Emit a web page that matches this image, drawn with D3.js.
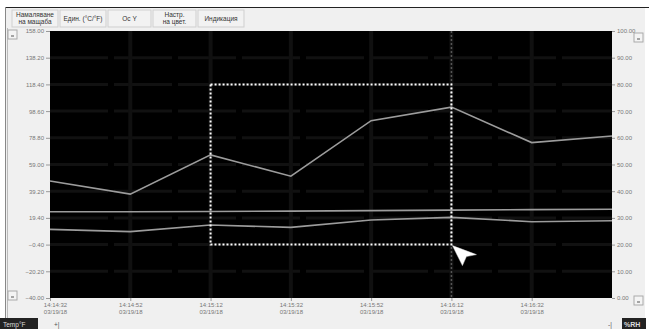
<!DOCTYPE html>
<html>
<head>
<meta charset="utf-8">
<script src="https://cdn.jsdelivr.net/npm/d3@7"></script>
<style>
  body { margin: 0; background: #fff; }
  svg { display: block; font-family: "Liberation Sans", Arial, sans-serif; }
  .axis text { fill: #777; font-size: 6px; }
  .axis path { display: none; }
  .axis line { stroke: #999; }
  .btn text { fill: #333; font-size: 6.5px; }
</style>
</head>
<body>
<svg id="chart" width="649" height="329"></svg>
<script>
// sample times (one reading every 20 s) and the date shown under each
const times = ["14:14:32","14:14:52","14:15:12","14:15:32","14:15:52","14:16:12","14:16:32","14:16:52"];
const dateLabel = "03/19/18";
// %RH channel (right axis)
const humidity = [43.8, 38.9, 53.6, 45.6, 66.4, 71.5, 58.2, 60.7];
// temperature channels (left axis)
const tempUpper = [24.0, 24.0, 24.2, 24.4, 24.8, 25.2, 25.5, 25.8];
const tempLower = [10.9, 9.2, 14.1, 12.4, 17.8, 19.8, 16.6, 17.3];
// axis ticks
const leftTicks = [158.00, 138.20, 118.40, 98.60, 78.80, 59.00, 39.20, 19.40, -0.40, -20.20, -40.00];
const rightTicks = [100, 90, 80, 70, 60, 50, 40, 30, 20, 10, 0];
const xTicks = ["14:14:32","14:14:52","14:15:12","14:15:32","14:15:52","14:16:12","14:16:32"];
// zoom selection box and cursor
const zoomBox = { from: "14:15:12", to: "14:16:12", low: -0.40, high: 118.40 };
const cursorTime = "14:16:12";
const buttons = [["Намаляване", "на мащаба"], ["Един. (°C/°F)"], ["Ос Y"], ["Настр.", "на цвет."], ["Индикация"]];

const parse = d3.timeParse("%H:%M:%S");
const svg = d3.select("#chart");
const margin = {top: 31, right: 37, bottom: 31, left: 50};
const W = 649, H = 329;
const width = W - margin.left - margin.right, height = H - margin.top - margin.bottom;

// window frame
svg.append("rect").attr("x", 5).attr("y", 7).attr("width", 640).attr("height", 322)
  .attr("fill", "#f0f0f0");
svg.append("line").attr("x1", 5).attr("x2", 649).attr("y1", 7.5).attr("y2", 7.5).attr("stroke", "#222");
svg.append("line").attr("x1", 5.5).attr("x2", 5.5).attr("y1", 7).attr("y2", 329).attr("stroke", "#888");
svg.append("line").attr("x1", 7.5).attr("x2", 7.5).attr("y1", 28).attr("y2", 318).attr("stroke", "#bbb");

// toolbar
const btnW = [46, 46, 43, 43, 46];
let bx = 12;
buttons.forEach((lines, i) => {
  const g = svg.append("g").attr("class", "btn").attr("transform", `translate(${bx},10)`);
  g.append("rect").attr("width", btnW[i]).attr("height", 17).attr("fill", "#f2f2f2").attr("stroke", "#cfcfcf");
  const t = g.append("text").attr("text-anchor", "middle");
  lines.forEach((l, j) => {
    t.append("tspan").attr("x", btnW[i] / 2)
      .attr("y", lines.length === 1 ? 11 : 7 + j * 6.5).text(l);
  });
  bx += btnW[i] + 2;
});

const g = svg.append("g").attr("transform", `translate(${margin.left},${margin.top})`);

const x = d3.scaleTime().domain([parse(times[0]), parse(times[times.length - 1])]).range([0, width]);
const yL = d3.scaleLinear().domain([-40, 158]).range([height, 0]);
const yR = d3.scaleLinear().domain([0, 100]).range([height, 0]);

g.append("rect").attr("width", width).attr("height", height).attr("fill", "#000");

// grid (very faint, as in the logger software)
g.append("g").selectAll("line").data(leftTicks.slice(1, -1)).join("line")
  .attr("x1", 0).attr("x2", width).attr("y1", d => yL(d)).attr("y2", d => yL(d))
  .attr("stroke", "#111").attr("stroke-width", 3).attr("stroke-dasharray", "58,6");
g.append("g").selectAll("line").data(xTicks.slice(1)).join("line")
  .attr("x1", d => x(parse(d))).attr("x2", d => x(parse(d)))
  .attr("y1", 0).attr("y2", height)
  .attr("stroke", "#101010").attr("stroke-width", 4);

// cursor line
g.append("line").attr("x1", x(parse(cursorTime))).attr("x2", x(parse(cursorTime)))
  .attr("y1", 0).attr("y2", height).attr("stroke", "#555").attr("stroke-width", 1.5)
  .attr("stroke-dasharray", "2,2");

// series
const line = (ys, scale) => d3.line().x((d, i) => x(parse(times[i]))).y(d => scale(d))(ys);
[[humidity, yR], [tempUpper, yL], [tempLower, yL]].forEach(([vals, sc]) => {
  g.append("path").attr("d", line(vals, sc)).attr("fill", "none")
    .attr("stroke", "#9c9c9c").attr("stroke-width", 1.6);
});

// zoom selection box
const bx0 = x(parse(zoomBox.from)), bx1 = x(parse(zoomBox.to));
const by0 = yL(zoomBox.high), by1 = yL(zoomBox.low);
g.append("rect").attr("x", bx0).attr("y", by0).attr("width", bx1 - bx0).attr("height", by1 - by0)
  .attr("fill", "none").attr("stroke", "#fff").attr("stroke-width", 2).attr("stroke-dasharray", "2,2");

// mouse pointer at box corner
g.append("path").attr("transform", `translate(${bx1 + 1},${by1 + 1})`)
  .attr("d", "M0,0 L24,9 L14,11 L10,20 Z").attr("fill", "#fff").attr("stroke", "#ddd").attr("stroke-width", 0.5);

// axes
g.append("g").attr("class", "axis")
  .call(d3.axisLeft(yL).tickValues(leftTicks).tickFormat(d3.format(".2f")).tickSize(4).tickPadding(2));
g.append("g").attr("class", "axis").attr("transform", `translate(${width},0)`)
  .call(d3.axisRight(yR).tickValues(rightTicks).tickFormat(d3.format(".2f")).tickSize(3).tickPadding(2));
const xa = g.append("g").attr("class", "axis").attr("transform", `translate(0,${height})`)
  .call(d3.axisBottom(x).tickValues(xTicks.map(parse)).tickSize(3).tickFormat(""));
xa.selectAll(".tick").each(function(d, i) {
  const t = d3.select(this).append("text").attr("text-anchor", "middle").attr("x", i === 0 ? 5 : 0);
  t.append("tspan").attr("y", 9).attr("x", i === 0 ? 5 : 0).text(xTicks[i]);
  t.append("tspan").attr("y", 15.5).attr("x", i === 0 ? 5 : 0).text(dateLabel);
});

// small scroll buttons
[[8, 30], [8, 291], [634, 33], [634, 296]].forEach(([px, py]) => {
  svg.append("rect").attr("x", px).attr("y", py).attr("width", 9).attr("height", 9)
    .attr("fill", "#f4f4f4").attr("stroke", "#aaa");
  svg.append("line").attr("x1", px + 3).attr("x2", px + 6).attr("y1", py + 6).attr("y2", py + 6).attr("stroke", "#555");
});

// status bar
svg.append("rect").attr("x", 0).attr("y", 318).attr("width", 38).attr("height", 11).attr("fill", "#222");
svg.append("text").attr("x", 3).attr("y", 326.5).attr("fill", "#ddd").attr("font-size", 6.5).text("Temp°F");
svg.append("text").attr("x", 54).attr("y", 326.5).attr("fill", "#555").attr("font-size", 6.5).text("+|");
svg.append("text").attr("x", 608).attr("y", 326.5).attr("fill", "#555").attr("font-size", 6.5).text("-|");
svg.append("rect").attr("x", 622).attr("y", 318).attr("width", 24).attr("height", 11).attr("fill", "#222");
svg.append("text").attr("x", 624).attr("y", 326.5).attr("fill", "#ddd").attr("font-size", 7).attr("font-weight", "bold").text("%RH");
</script>
</body>
</html>
